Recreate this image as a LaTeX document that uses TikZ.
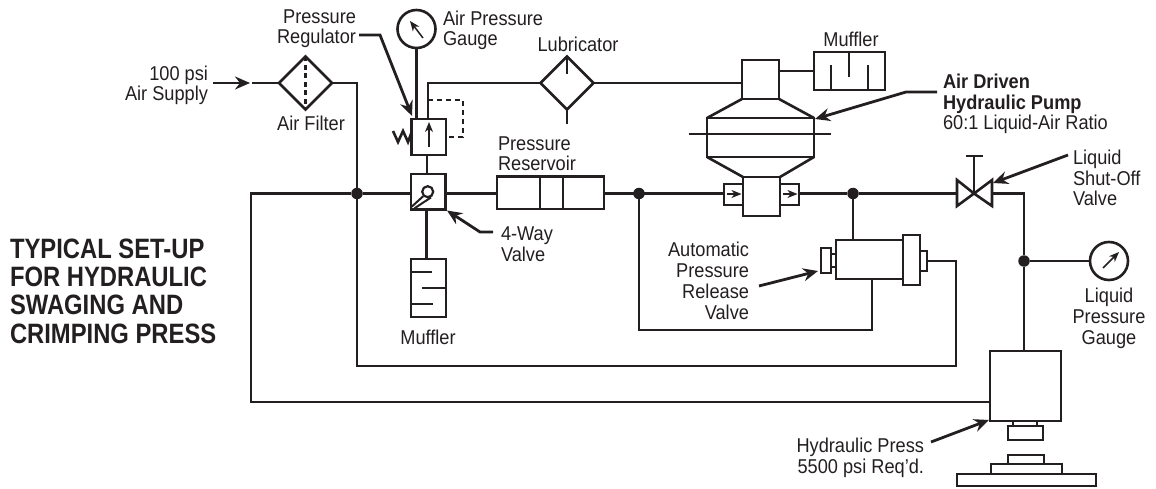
\documentclass[tikz,border=0pt]{standalone}
\usepackage{fontspec}
\usetikzlibrary{shapes.geometric,arrows.meta,calc}
\newfontfamily\lblfont[FakeStretch=.91]{Liberation Sans}
\newfontfamily\ttlfont[FakeStretch=.85]{Liberation Sans}
\newfontfamily\subfont[FakeStretch=.91]{Liberation Sans}
\definecolor{ink}{HTML}{231F20}
\tikzset{
  pipe/.style={draw=ink,line width=2.6pt,line join=miter},
  thin pipe/.style={draw=ink,line width=1.6pt},
  dash pipe/.style={draw=ink,line width=2.4pt,dash pattern=on 5pt off 4pt},
  lead/.style={draw=ink,line width=2.8pt,-{Stealth[length=15pt,width=13pt,inset=5pt]},line join=miter},
  needle/.style={draw=ink,line width=1.5pt,-{Stealth[length=10pt,width=8pt,inset=3pt]}},
  comp/.style={draw=ink,line width=2.6pt,fill=white,rectangle,inner sep=0pt,outer sep=0pt},
  dia/.style={draw=ink,line width=2.6pt,fill=white,diamond,aspect=1,inner sep=0pt,outer sep=0pt,minimum width=53pt,minimum height=53pt},
  gauge/.style={draw=ink,line width=2.6pt,fill=white,circle,inner sep=0pt,outer sep=0pt,minimum size=38pt},
  junc/.style={fill=ink,circle,inner sep=0pt,outer sep=0pt,minimum size=11.5pt},
  lbl/.style={text=ink,inner sep=0pt,outer sep=0pt,font=\lblfont\fontsize{20}{20.8}\selectfont},
  ttl/.style={text=ink,inner sep=0pt,outer sep=0pt,align=left,font=\ttlfont\bfseries\fontsize{28}{28.3}\selectfont},
}
\newcommand{\boxn}[5]{\pgfmathsetmacro\bw{#4-#2}\pgfmathsetmacro\bh{#5-#3}\pgfmathsetmacro\cx{(#2+#4)/2}\pgfmathsetmacro\cy{(#3+#5)/2}\node[comp,minimum width=\bw pt,minimum height=\bh pt] (#1) at (\cx,\cy) {};}
\begin{document}
\begin{tikzpicture}[x=1pt,y=-1pt]
\useasboundingbox (0,0) rectangle (1156,489);
% coordinates
\coordinate (inStart) at (213,83); \coordinate (inTip) at (250,83); \coordinate (inPipe) at (252,83);
\coordinate (cRet) at (956,366); \coordinate (cW1) at (251,193.5); \coordinate (cW2) at (251,402);
\coordinate (pressIn) at (990,402); \coordinate (cOil) at (639,330);
\coordinate (lubTurn) at (428,83); \coordinate (valveR) at (1024,193.5);
\coordinate (axisV) at (427,0); \coordinate (axisM) at (426.5,0); \coordinate (axisO) at (872,0);
% junctions positions
\coordinate (pJA) at (357,193.5); \coordinate (pJB) at (639,193.5); \coordinate (pJC) at (853,193.5); \coordinate (pJD) at (1024,261);
% components
\node[dia] (filter) at (305.5,83) {};
\node[dia] (lub) at (567,83) {};
\node[gauge] (gaugeA) at (416.5,29) {};
\node[gauge] (gaugeL) at (1109,261) {};
\boxn{reg}{411.3}{119}{446}{155}
\boxn{valve}{411}{174}{445.7}{209.5}
\boxn{mufL}{411}{259}{446}{317}
\boxn{res}{497}{176.5}{604}{209}
\boxn{pumpTop}{742}{60}{779}{99}
\boxn{mufT}{814}{52}{885}{90}
\boxn{pumpBody}{707}{118}{814}{157}
\boxn{pumpLow}{743}{177}{780}{216}
\boxn{sideL}{724}{184}{743}{205}
\boxn{sideR}{780}{184}{799}{205}
\boxn{relBody}{836}{240}{903}{279}
\boxn{relFl}{903}{235}{920}{285}
\boxn{relEnd}{920}{251}{927}{271}
\boxn{relStub}{831}{254}{836}{267}
\boxn{relCap}{821}{248}{831}{273}
\boxn{press}{990}{351}{1061}{421}
\boxn{pressStub}{1013}{421}{1037}{426}
\boxn{pressHead}{1008}{426}{1043}{440}
\boxn{bedA}{1008}{455}{1044}{464}
\boxn{bedB}{991}{464}{1062}{474}
\boxn{bedC}{957}{474}{1096}{486}
\node[junc] (jA) at (pJA) {};
\node[junc] (jB) at (pJB) {};
\node[junc] (jC) at (pJC) {};
\node[junc] (jD) at (pJD) {};
% shut-off valve
\coordinate (sv) at (974,193.5);
\coordinate (svL) at (957,193.5); \coordinate (svR) at (992,193.5);
\draw[pipe] (sv) -- (957,180) -- (957,206) -- cycle;
\draw[pipe] (sv) -- (992,180) -- (992,206) -- cycle;
\coordinate (svTop) at (974,156);
\draw[pipe] (sv) -- (svTop);
\draw[pipe] (966,156) -- (983,156);
% pipes
\draw[pipe] (inPipe) -- (filter.west);
\draw[pipe] (filter.east) -| (jA);
\draw[pipe] (jA) -- (valve.west |- jA);
\draw[pipe] (jA) -- (cW1) -- (cW2) -- (pressIn);
\draw[pipe] (jA) |- (cRet) |- (relEnd.east);
\draw[pipe] (valve.east |- jA) -- (res.west |- jA);
\draw[pipe] (valve.south -| axisM) -- (mufL.north -| axisM);
\draw[pipe] (reg.south -| axisV) -- (valve.north -| axisV);
\draw[pipe] (gaugeA.south) -- (gaugeA.south |- reg.north);
\draw[pipe] (reg.north -| lubTurn) -- (lubTurn) -- (lub.west);
\draw[pipe] (lub.east) -- (lub.east -| pumpTop.west);
\draw[pipe] (pumpTop.east |- mufT.west) -- (mufT.west);
\draw[pipe] (res.east |- pJB) -- (sideL.west |- pJB);
\draw[pipe] (sideR.east |- pJC) -- (jC) -- (svL);
\draw[pipe] (jC) -- (jC |- relBody.north);
\draw[pipe] (jB) -- (cOil) -| (relBody.south -| axisO);
\draw[pipe] (svR) -- (valveR) -- (jD) -- (jD |- press.north);
\draw[pipe] (jD) -- (gaugeL.west);
% dashed pilot
\coordinate (dp1) at (428,100); \coordinate (dp2) at (463,100); \coordinate (dp3) at (463,137);
\draw[dash pipe] (dp1) -- (dp2) -- (dp3) -- (reg.east |- dp3);
% spring
\draw[pipe,line join=miter] (393,131) -- (398,142) -- (403,131) -- (408,142) -- (411.3,133);
% internals
\draw[needle] (429,147) -- (429,122);
\draw[needle] (423,38) -- (410,21);
\draw[needle] (1103,268) -- (1119,252);
\draw[needle] (727,194) -- (741.5,194);
\draw[needle] (783,194) -- (797.5,194);
\draw[pipe,dashed,dash pattern=on 5pt off 3.5pt] (filter.north) -- (filter.south);
\draw[pipe] (lub.north) -- ($(lub.north)+(0,18)$);
\draw[pipe] (lub.south) -- ($(lub.south)+(0,15)$);
% valve lever
\node[draw=ink,line width=2.2pt,fill=white,circle,inner sep=0pt,minimum size=11pt] (lever) at (427.7,191.7) {};
\draw[thin pipe,line width=2pt] (411.7,206.7) -- (lever.225);
\draw[thin pipe,line width=2pt] (414.5,208.3) -- (lever.-60);
% reservoir dividers
\draw[pipe] (540,176.5) -- (540,209);
\draw[pipe] (563,176.5) -- (563,209);
% pump
\draw[pipe] (pumpTop.south west) -- (pumpBody.north west);
\draw[pipe] (pumpTop.south east) -- (pumpBody.north east);
\draw[pipe] (pumpBody.south west) -- (pumpLow.north west);
\draw[pipe] (pumpBody.south east) -- (pumpLow.north east);
\draw[pipe] (689,134) -- (831,134);
% mufflers
\draw[pipe] (831,65) -- (831,90);
\draw[pipe] (849,52) -- (849,77);
\draw[pipe] (868,65) -- (868,90);
\draw[pipe] (411,272) -- (432,272);
\draw[pipe] (422,288) -- (446,288);
\draw[pipe] (411,304) -- (433,304);
% leaders
\draw[lead] (inStart) -- (inTip);
\draw[lead] (359,35) -- (380,35) -- (412,116);
\draw[lead] (493,232) -- (480,232) -- (447,210.5);
\draw[lead] (937,92) -- (906,92) -- (815,119);
\draw[lead] (1068,155) -- (993,183);
\draw[lead] (759,286) -- (818,271);
\draw[lead] (931,442) -- (989,420);
% labels (base anchor = last line)
\node[lbl,align=right,anchor=base east] (tSupply) at (208,101) {100 psi\\Air Supply};
\node[lbl,align=right,anchor=base east] (tReg) at (356,44) {Pressure\\Regulator};
\node[lbl,align=left,anchor=base west] (tAPG) at (443,46) {Air Pressure\\Gauge};
\node[lbl,anchor=base] (tLub) at (578,52) {Lubricator};
\node[lbl,anchor=base] (tFilter) at (311,131) {Air Filter};
\node[lbl,align=left,anchor=base west] (tRes) at (498,171) {Pressure\\Reservoir};
\node[lbl,align=left,anchor=base west] (tWay) at (501,261) {4-Way\\Valve};
\node[lbl,anchor=base] (tMufL) at (428,344) {Muffler};
\node[lbl,anchor=base] (tMufT) at (851,47) {Muffler};
\node[lbl,align=left,anchor=base west] (tPump) at (943,130) {\subfont\bfseries Air Driven\\\subfont\bfseries Hydraulic Pump\\60:1 Liquid-Air Ratio};
\node[lbl,align=right,anchor=base east] (tAuto) at (749,319) {Automatic\\Pressure\\Release\\Valve};
\node[lbl,align=left,anchor=base west] (tShut) at (1073,206) {Liquid\\Shut-Off\\Valve};
\node[lbl,align=center,anchor=base] (tLPG) at (1109,344) {Liquid\\Pressure\\Gauge};
\node[lbl,align=right,anchor=base east] (tPress) at (924,473) {Hydraulic Press\\5500 psi Req’d.};
\node[ttl,anchor=base west] (tTitle) at (10,343) {TYPICAL SET-UP\\FOR HYDRAULIC\\SWAGING AND\\CRIMPING PRESS};
\end{tikzpicture}
\end{document}
